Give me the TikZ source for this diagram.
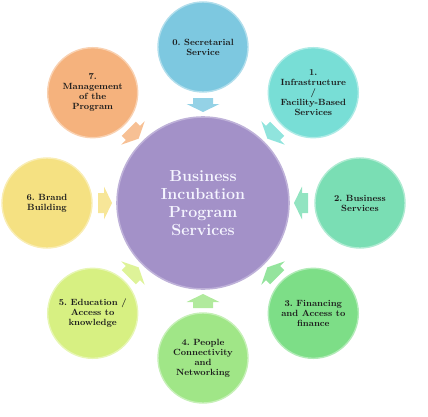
\documentclass[tikz,border=0pt]{standalone}
\usetikzlibrary{calc}
\definecolor{cZero}{HTML}{7DC8E0}
\definecolor{cOne}{HTML}{78DED6}
\definecolor{cTwo}{HTML}{7ADEB4}
\definecolor{cThree}{HTML}{7DDE87}
\definecolor{cFour}{HTML}{A0E687}
\definecolor{cFive}{HTML}{D7F082}
\definecolor{cSix}{HTML}{F5E182}
\definecolor{cSeven}{HTML}{F5B27D}
\definecolor{cCenter}{HTML}{A391C8}
\definecolor{txtdark}{HTML}{1C1C1C}
\frenchspacing
\begin{document}
\begin{tikzpicture}[x=1pt,y=1pt,
  svc/.style={circle, minimum size=90pt, inner sep=0pt, fill=#1, draw=#1!60!white,
    line width=1.4pt, align=center, text=txtdark,
    font=\fontsize{9}{10}\selectfont\bfseries},
  hub/.style={circle, minimum size=172pt, inner sep=0pt, fill=#1, draw=#1!70!white,
    line width=1.6pt, align=center, text=white!96!blue,
    font=\fontsize{16}{18}\selectfont\bfseries},
  flowarrow/.style={fill=#1!82!white, draw=none}]
\useasboundingbox (0,0) rectangle (428,416);
\coordinate (c) at (203,213);
\node[hub=cCenter] (ctr) at (c) {Business\\Incubation\\Program\\Services};
\node[svc=cZero]  (s0) at ($(c)+(90:156)$)   {0. Secretarial\\Service};
\node[svc=cOne]   (s1) at ($(c)+(45:156)$)   {1.\\Infrastructure\\/\\Facility-Based\\Services};
\node[svc=cTwo]   (s2) at ($(c)+(0:157)$)    {2. Business\\Services};
\node[svc=cThree] (s3) at ($(c)+(-45:156)$)  {3. Financing\\and Access to\\finance};
\node[svc=cFour]  (s4) at ($(c)+(-90:155)$)  {4. People\\Connectivity\\and\\Networking};
\node[svc=cFive]  (s5) at ($(c)+(-135:156)$) {5. Education /\\Access to\\knowledge};
\node[svc=cSix]   (s6) at ($(c)+(180:156)$)  {6. Brand\\Building};
\node[svc=cSeven] (s7) at ($(c)+(135:156)$)  {7.\\Management\\of the\\Program};
\foreach \ang/\col in {90/cZero,45/cOne,0/cTwo,-45/cThree,-90/cFour,-135/cFive,180/cSix,135/cSeven}{
  \begin{scope}[shift={(c)}, rotate=\ang]
    \fill[flowarrow=\col] (91,0) -- (99,16.5) -- (99,10) -- (105,10) -- (105,-10)
      -- (99,-10) -- (99,-16.5) -- cycle;
  \end{scope}
}
\end{tikzpicture}
\end{document}
